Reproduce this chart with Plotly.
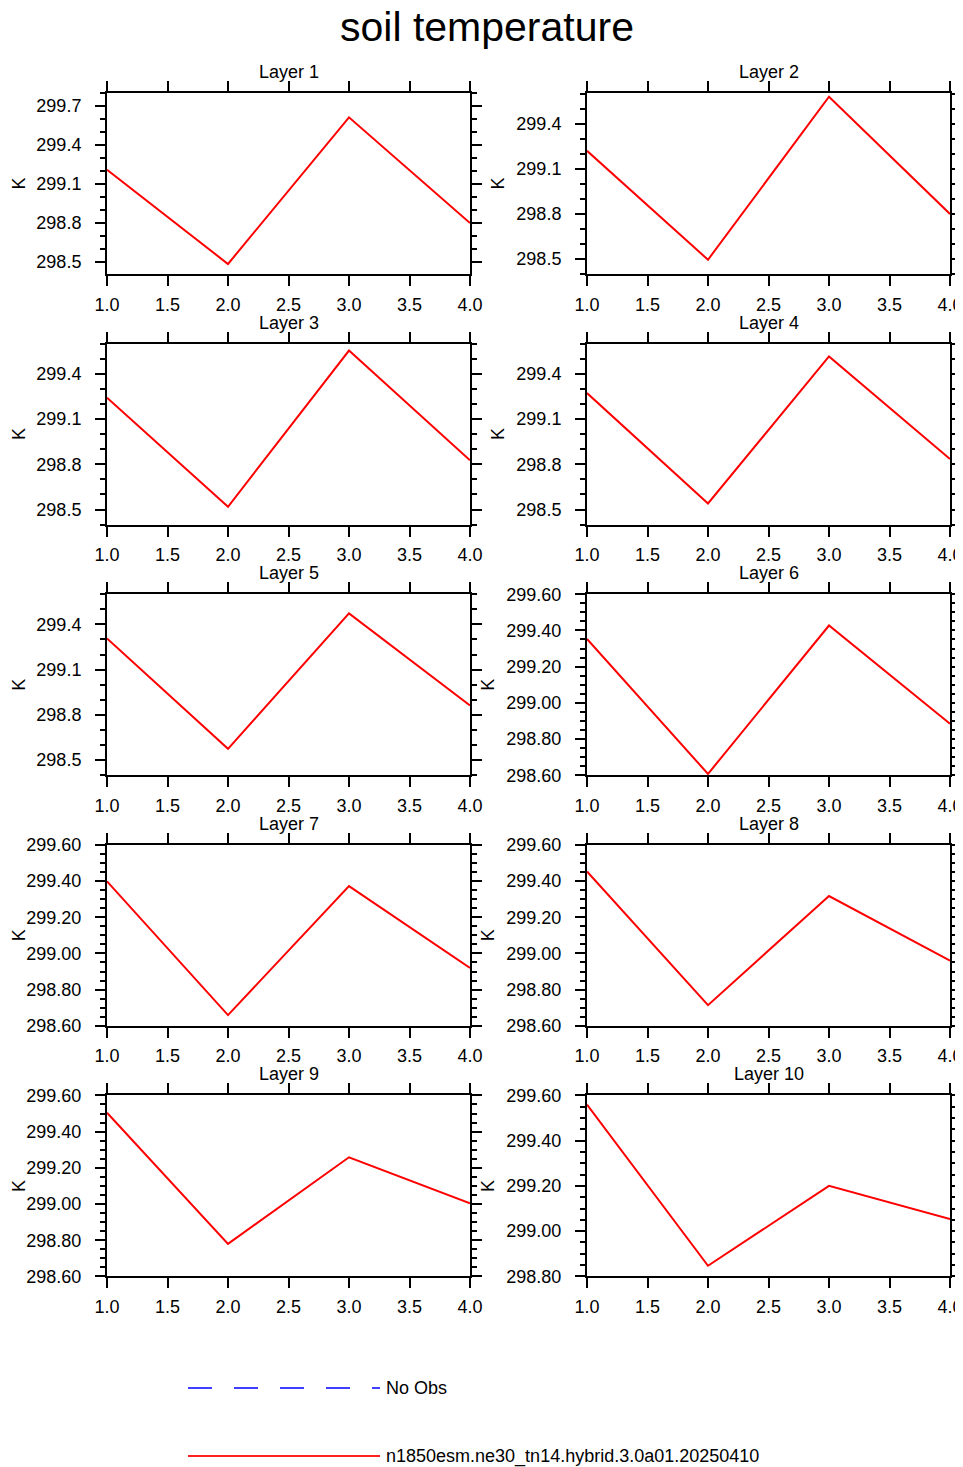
import plotly.graph_objects as go
from plotly.subplots import make_subplots

# canvas in px (page is photographed at this size)
W, H = 963, 1467
PAGE_PAD = 8  # default body margin of the html page
FONT = "Liberation Sans, Arial, Helvetica, sans-serif"

# ---- data ----
x_vals = [1.0, 2.0, 3.0, 4.0]
layer_titles = [f"Layer {i}" for i in range(1, 11)]

layer1 = [299.210, 298.485, 299.613, 298.800]
layer2 = [299.220, 298.495, 299.580, 298.800]
layer3 = [299.241, 298.518, 299.554, 298.826]
layer4 = [299.272, 298.540, 299.515, 298.835]
layer5 = [299.307, 298.575, 299.473, 298.862]
layer6 = [299.353, 298.607, 299.427, 298.884]
layer7 = [299.398, 298.659, 299.372, 298.920]
layer8 = [299.453, 298.714, 299.317, 298.960]
layer9 = [299.504, 298.780, 299.258, 299.004]
layer10 = [299.559, 298.847, 299.200, 299.053]
layers = [layer1, layer2, layer3, layer4, layer5,
          layer6, layer7, layer8, layer9, layer10]

# y ranges of each panel
y_ranges = [
    [298.408, 299.80],
    [298.40, 299.605],
    [298.40, 299.60],
    [298.40, 299.60],
    [298.40, 299.60],
    [298.60, 299.60],
    [298.60, 299.60],
    [298.60, 299.60],
    [298.60, 299.60],
    [298.80, 299.60],
]

model_name = "n1850esm.ne30_tn14.hybrid.3.0a01.20250410"
obs_name = "No Obs"


def px(x):
    return (x - PAGE_PAD) / W


def py(y):
    return 1 - (y - PAGE_PAD) / H


# ---- panel geometry (screen px) ----
col_left = [(107, 470), (587, 950)]
row_top0, row_step, frame_h = 93, 250.6, 181

fig = make_subplots(rows=5, cols=2)

annotations = []
for i, vals in enumerate(layers):
    r, c = i // 2, i % 2
    n = i + 1
    x0, x1 = col_left[c]
    top = row_top0 + r * row_step
    bot = top + frame_h

    fig.add_trace(go.Scatter(x=x_vals, y=vals, mode="lines",
                             line=dict(color="#ff0000", width=2),
                             showlegend=False, hoverinfo="skip"),
                  row=r + 1, col=c + 1)

    lo, hi = y_ranges[i]
    if i < 5:
        dtick, tick0, mdt, fmt = 0.3, 298.5, 0.1, ".1f"
    else:
        dtick, tick0, mdt, fmt = 0.2, 298.6, 0.05, ".2f"

    sx = "" if n == 1 else str(n)
    fig.update_layout({
        f"xaxis{sx}": dict(
            domain=[px(x0), px(x1)], range=[1, 4], dtick=0.5, tick0=1,
            tickformat=".1f",
            showline=True, linecolor="black", linewidth=2, mirror="ticks",
            ticks="outside", ticklen=10, tickwidth=2, tickcolor="black",
            ticklabelstandoff=3, showgrid=False, zeroline=False,
            automargin=False,
            tickfont=dict(size=18, color="black", family=FONT),
        ),
        f"yaxis{sx}": dict(
            domain=[py(bot), py(top)], range=[lo, hi], dtick=dtick,
            tick0=tick0, tickformat=fmt,
            showline=True, linecolor="black", linewidth=2, mirror="ticks",
            ticks="outside", ticklen=10, tickwidth=2, tickcolor="black",
            ticklabelstandoff=10, showgrid=False, zeroline=False,
            automargin=False,
            minor=dict(dtick=mdt, tick0=tick0, ticks="outside", ticklen=5,
                       tickwidth=1.5, tickcolor="black", showgrid=False),
            tickfont=dict(size=18, color="black", family=FONT),
        ),
    })

    # panel title
    annotations.append(dict(
        text=layer_titles[i], x=px((x0 + x1) / 2), y=py(top),
        xref="paper", yref="paper", xanchor="center", yanchor="bottom",
        yshift=9, showarrow=False,
        font=dict(size=18, color="black", family=FONT)))
    # y axis unit label (kept inside the page margin)
    if c == 0:
        kx = 19
    else:
        kx = 498 if i < 5 else 488
    annotations.append(dict(
        text="K", x=px(kx), y=py((top + bot) / 2),
        xref="paper", yref="paper", xanchor="center", yanchor="middle",
        textangle=-90, showarrow=False,
        font=dict(size=18, color="black", family=FONT)))

# main title
annotations.append(dict(
    text="soil temperature", x=px(486.5), y=py(27),
    xref="paper", yref="paper", xanchor="center", yanchor="middle",
    showarrow=False, font=dict(size=41, color="black", family=FONT)))

# legend (drawn by hand, like the NCL legend)
leg_x0, leg_x1 = 188, 380
leg_rows = [
    (1388, obs_name, dict(color="#0000ff", width=1.5, dash="24px,22px")),
    (1456, model_name, dict(color="#ff2020", width=2)),
]
shapes = []
for ly, label, line in leg_rows:
    shapes.append(dict(type="line", xref="paper", yref="paper",
                       x0=px(leg_x0), x1=px(leg_x1),
                       y0=py(ly), y1=py(ly), line=line))
    annotations.append(dict(
        text=label, x=px(384), y=py(ly), xref="paper", yref="paper",
        xanchor="left", yanchor="middle", showarrow=False,
        font=dict(size=18, color="black", family=FONT)))

fig.update_layout(
    width=W, height=H,
    margin=dict(l=0, r=0, t=0, b=0),
    paper_bgcolor="white", plot_bgcolor="white",
    showlegend=False,
    annotations=annotations,
    shapes=shapes,
    font=dict(family=FONT, color="black"),
)

fig.write_html("out.html")
